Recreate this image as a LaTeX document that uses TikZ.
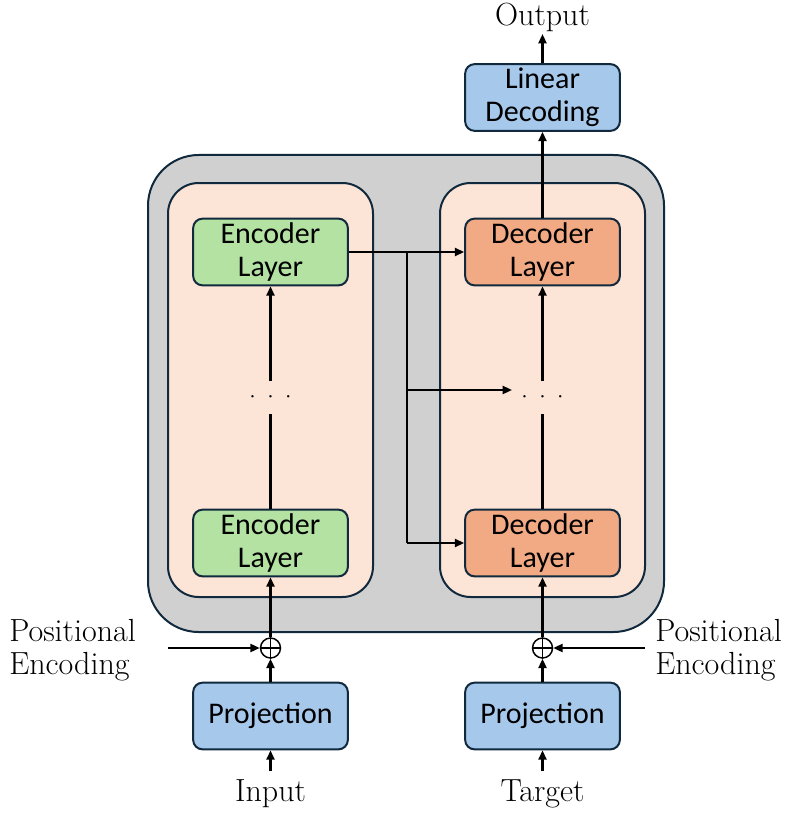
\documentclass[tikz,border=0pt]{standalone}
\usepackage{fontspec}
\setmainfont{Latin Modern Roman}
\newfontfamily\boxfont{Carlito}
\usetikzlibrary{arrows.meta}
\definecolor{bordc}{HTML}{10293D}
\definecolor{grayfill}{HTML}{D0D0D0}
\definecolor{pinkfill}{HTML}{FCE4D6}
\definecolor{greenfill}{HTML}{B3E2A3}
\definecolor{orangefill}{HTML}{F2AA84}
\definecolor{bluefill}{HTML}{A6C8EB}
\tikzset{
  blk/.style={draw=bordc, line width=1.5pt, rounded corners=7pt, minimum width=116pt, minimum height=50pt, inner sep=0pt, align=center, font=\boxfont\fontsize{22.5}{25}\selectfont},
  enc/.style={blk, fill=greenfill},
  dec/.style={blk, fill=orangefill},
  bl/.style={blk, fill=bluefill},
  lbl/.style={font=\fontsize{24}{24.5}\selectfont, align=left, inner sep=0pt},
  arr/.style={line width=1.6pt, -{Triangle[length=7pt,width=6pt]}},
  ln/.style={line width=1.6pt},
  opl/.style={draw=black, line width=1.1pt, circle, minimum size=15pt, inner sep=0pt},
  dotsn/.style={inner sep=0pt, font=\fontsize{17}{17}\selectfont},
}
\begin{document}
\begin{tikzpicture}[x=0.75pt,y=-0.75pt]
\useasboundingbox (0,0) rectangle (785,813);
% containers
\draw[draw=bordc, line width=1.5pt, fill=grayfill, rounded corners=38pt] (148,155) rectangle (664,632);
\draw[draw=bordc, line width=1.5pt, fill=pinkfill, rounded corners=23pt] (168,183) rectangle (373,597);
\draw[draw=bordc, line width=1.5pt, fill=pinkfill, rounded corners=23pt] (440,183) rectangle (645,597);
% blocks
\node[enc] (e2) at (270.5,252) {Encoder\\Layer};
\node[enc] (e1) at (270.5,543) {Encoder\\Layer};
\node[dec] (d2) at (542.5,252) {Decoder\\Layer};
\node[dec] (d1) at (542.5,543) {Decoder\\Layer};
\node[bl] (lin) at (542.5,97.5) {Linear\\Decoding};
\node[bl] (pl) at (270.5,716) {Projection};
\node[bl] (pr) at (542.5,716) {Projection};
\node[dotsn] (dl) at (270.5,397) {$\cdot\;\cdot\;\cdot$};
\node[dotsn] (dr) at (542.5,397) {$\cdot\;\cdot\;\cdot$};
% oplus
\node[opl] (ol) at (270.5,648) {};
\node[opl] (or) at (542.5,648) {};
\draw[line width=1.1pt] (ol.north) -- (ol.south) (ol.west) -- (ol.east);
\draw[line width=1.1pt] (or.north) -- (or.south) (or.west) -- (or.east);
% texts
\node[lbl] (out) at (542.5,17) {Output};
\node[lbl] (inp) at (270.5,794) {Input};
\node[lbl] (tgt) at (542.5,794) {Target};
\node[lbl, anchor=west] (pel) at (9,650) {Positional\\Encoding};
\node[lbl, anchor=west] (per) at (655,650) {Positional\\Encoding};
\coordinate (inS) at (270.5,771);
\coordinate (tgS) at (542.5,771);
\coordinate (peLs) at (168,648);
\coordinate (peRs) at (645,648);
\coordinate (outE) at (542.5,34);
% arrows
\draw[arr] (inS) -- (pl.south);
\draw[arr] (tgS) -- (pr.south);
\draw[arr] (pl.north) -- (ol.south);
\draw[arr] (pr.north) -- (or.south);
\draw[arr] (peLs) -- (ol.west);
\draw[arr] (peRs) -- (or.east);
\draw[arr] (ol.north) -- (e1.south);
\draw[arr] (or.north) -- (d1.south);
\draw[ln] (e1.north) -- (270.5,414);
\draw[arr] (270.5,381) -- (e2.south);
\draw[ln] (d1.north) -- (542.5,414);
\draw[arr] (542.5,381) -- (d2.south);
\draw[arr] (d2.north) -- (lin.south);
\draw[arr] (lin.north) -- (outE);
% encoder output to decoders
\coordinate (br) at (407,252);
\draw[arr] (e2.east) -- (d2.west);
\draw[ln] (br) -- (407,543);
\draw[arr] (407,543) -- (d1.west);
\draw[arr] (407,390) -- (512,390);
\end{tikzpicture}
\end{document}
